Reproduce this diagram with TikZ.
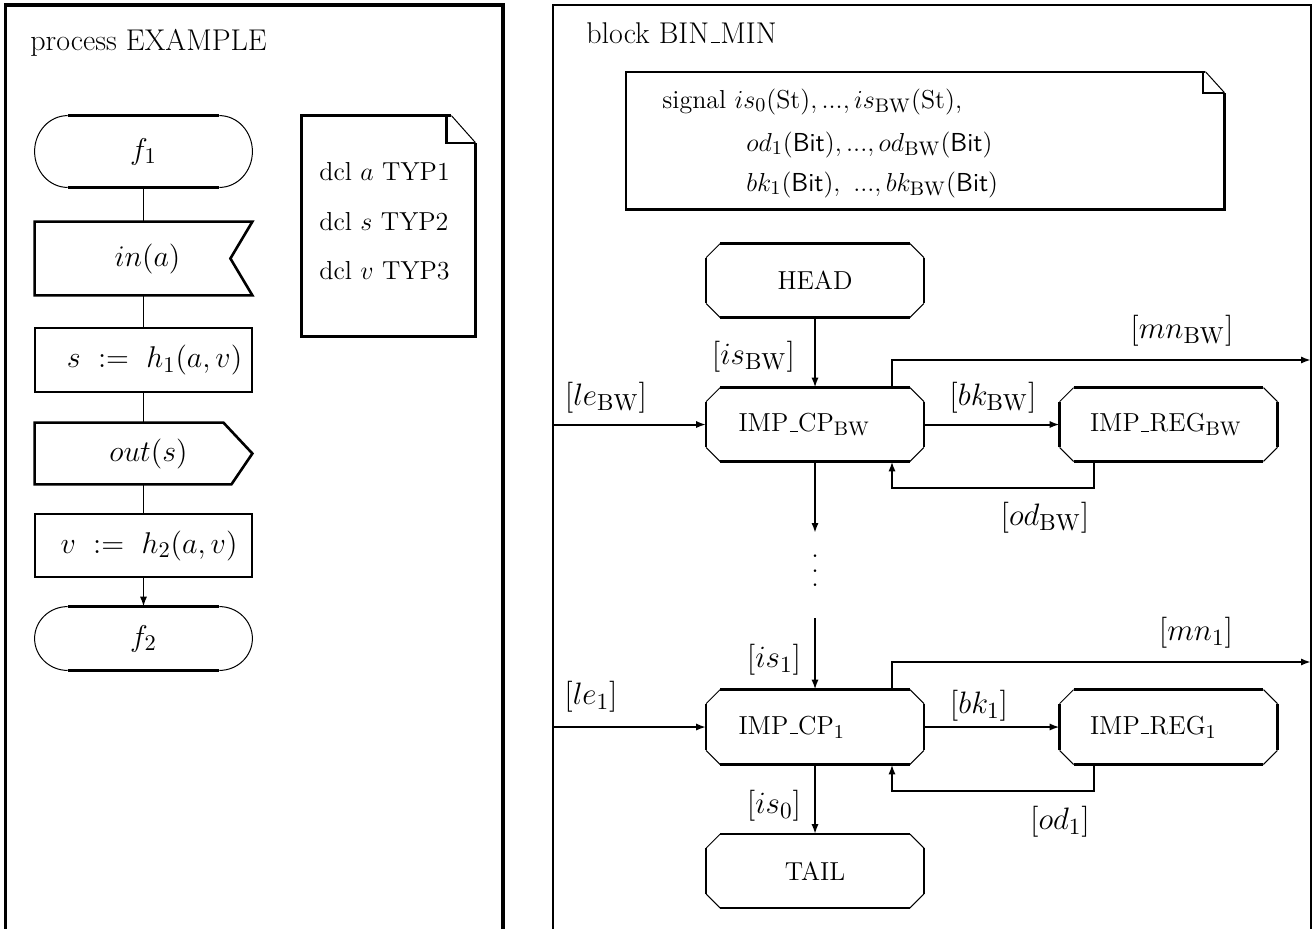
\RequirePackage{fix-cm}
\documentclass[tikz,border=0pt]{standalone}
\usetikzlibrary{arrows.meta,calc}
\DeclareMathSizes{13}{13}{9.8}{7.5}
\DeclareMathSizes{15}{15}{11.2}{8.5}
\DeclareMathSizes{15.5}{15.5}{11.6}{8.8}
\newcommand\us{\leavevmode\kern.06em\vbox{\hrule width.3em height .4pt}\kern.02em}
\tikzset{
  frameL/.style={line width=1.6pt},
  frameR/.style={line width=1.1pt},
  boxl/.style={line width=1.3pt},
  thinl/.style={line width=0.5pt},
  flink/.style={line width=0.9pt},
  tip/.style={-{Latex[length=5pt,width=3.6pt]}},
  arr/.style={line width=1pt,tip},
  arrb/.style={line width=1.4pt,tip},
  shp/.style={draw=none,inner sep=0pt,minimum width=108.5pt},
  ftext/.style={font=\fontsize{15}{18}\selectfont},
  ntext/.style={font=\fontsize{13}{16}\selectfont},
  ttext/.style={font=\fontsize{15}{18}\selectfont},
  lab/.style={font=\fontsize{15.5}{18}\selectfont,inner sep=0pt},
}
% terminator outline: straight edges thick, ends thin
\newcommand\termpath[1]{%
  \draw[boxl] ([xshift=16.5pt]#1.north west) -- ([xshift=-16.5pt]#1.north east)
              ([xshift=16.5pt]#1.south west) -- ([xshift=-16.5pt]#1.south east);
  \draw[thinl] let \p1=(#1.north), \p2=(#1.south), \n1={(\y1-\y2)/2} in
     ([xshift=-16.5pt]#1.north east) arc[start angle=90,end angle=-90,x radius=16.5pt,y radius=\n1]
     ([xshift=16.5pt]#1.south west) arc[start angle=270,end angle=90,x radius=16.5pt,y radius=\n1];
}
% chamfered outline: straight edges thick, corners thin
\newcommand\chamf[1]{%
  \draw[boxl] ([xshift=7pt]#1.north west) -- ([xshift=-7pt]#1.north east)
              ([yshift=-7pt]#1.north east) -- ([yshift=7pt]#1.south east)
              ([xshift=-7pt]#1.south east) -- ([xshift=7pt]#1.south west)
              ([yshift=7pt]#1.south west) -- ([yshift=-7pt]#1.north west);
  \draw[thinl] ([xshift=-7pt]#1.north east) -- ([yshift=-7pt]#1.north east)
               ([yshift=7pt]#1.south east) -- ([xshift=-7pt]#1.south east)
               ([xshift=7pt]#1.south west) -- ([yshift=7pt]#1.south west)
               ([yshift=-7pt]#1.north west) -- ([xshift=7pt]#1.north west);
}
\begin{document}
\begin{tikzpicture}[x=0.5pt,y=-0.5pt]
\useasboundingbox (0,0) rectangle (1313,928);
\fill[white] (0,0) rectangle (1313,928);

% ---------------- left frame ----------------
\draw[frameL] (5.5,940) -- (5.5,5) -- (503,5) -- (503,940);
\node[ttext,anchor=base west,inner sep=0pt] (ptitle) at (30,50) {process EXAMPLE};

% flowchart nodes
\node[shp,minimum height=35.5pt,ftext] (f1) at (143.5,151.5) {$f_1$};
\node[shp,minimum height=36.5pt,ftext] (in) at (143.5,258.5) {\hspace*{4pt}$in(a)$};
\node[shp,draw,boxl,minimum height=32pt,ftext] (s) at (143.5,360) {\hspace*{11pt}$s\ :=\ h_1(a,v)$};
\node[shp,minimum height=30.5pt,ftext] (out) at (143.5,453.5) {\hspace*{5pt}$out(s)$};
\node[shp,draw,boxl,minimum height=31.5pt,ftext] (v) at (143.5,545.5) {\hspace*{5.5pt}$v\ :=\ h_2(a,v)$};
\node[shp,minimum height=31.5pt,ftext] (f2) at (143.5,638.5) {$f_2$};

\termpath{f1}
\termpath{f2}
\draw[boxl] (in.north west) -- (in.north east) -- ([xshift=-11pt]in.east) -- (in.south east) -- (in.south west) -- cycle;
\draw[boxl] (out.north west) -- ([xshift=-14.5pt]out.north east) -- (out.east) -- ([xshift=-10.5pt]out.south east) -- (out.south west) -- cycle;

\draw[flink] (f1.south) -- (in.north);
\draw[flink] (in.south) -- (s.north);
\draw[flink] (s.south) -- (out.north);
\draw[flink] (out.south) -- (v.north);
\draw[flink,tip] (v.south) -- (f2.north);

% declaration text symbol
\node[draw=none,minimum width=86.5pt,minimum height=110pt] (decl) at (388.5,226) {};
\draw[boxl] ([xshift=-12pt]decl.north east) -- (decl.north west) -- (decl.south west) -- (decl.south east) -- ([yshift=-13.5pt]decl.north east);
\draw[thinl] ([xshift=-12pt]decl.north east) -- ([yshift=-13.5pt]decl.north east);
\draw[line width=1.1pt] ([xshift=-14.5pt]decl.north east) -- ([xshift=-14.5pt,yshift=-13.5pt]decl.north east) -- ([yshift=-13.5pt]decl.north east);
\node[ntext,anchor=base west,inner sep=0pt] (d1) at (319,180) {dcl $a$ TYP1};
\node[ntext,anchor=base west,inner sep=0pt] (d2) at (319,230) {dcl $s$ TYP2};
\node[ntext,anchor=base west,inner sep=0pt] (d3) at (319,279) {dcl $v$ TYP3};

% ---------------- right frame ----------------
\draw[frameR] (553,940) -- (553,5) -- (1311,5) -- (1311,940);
\node[ttext,anchor=base west,inner sep=0pt] (btitle) at (586,43) {block BIN\us MIN};

% signal declaration
\node[draw=none,minimum width=299pt,minimum height=68.5pt] (sig) at (925,140.5) {};
\draw[line width=1.1pt] ([xshift=-9.5pt]sig.north east) -- (sig.north west) -- (sig.south west) -- (sig.south east) -- ([yshift=-10.5pt]sig.north east);
\draw[thinl] ([xshift=-9.5pt]sig.north east) -- ([yshift=-10.5pt]sig.north east);
\draw[line width=1pt] ([xshift=-10.5pt]sig.north east) -- ([xshift=-10.5pt,yshift=-10.5pt]sig.north east) -- ([yshift=-10.5pt]sig.north east);
\node[ntext,anchor=base west,inner sep=0pt] (sig1) at (662,108) {signal $is_0(\mathrm{St}), ..., is_{\mathrm{BW}}(\mathrm{St})$,};
\node[ntext,anchor=base west,inner sep=0pt] (sig2) at (746,151) {$od_1(\textsf{Bit}), ..., od_{\mathrm{BW}}(\textsf{Bit})$};
\node[ntext,anchor=base west,inner sep=0pt] (sig3) at (746,191) {$bk_1(\textsf{Bit}),\ ...,bk_{\mathrm{BW}}(\textsf{Bit})$};

% process nodes
\node[shp,minimum height=36.5pt,ntext] (HEAD) at (815,280.5) {HEAD};
\node[shp,minimum height=36.5pt,ntext,text width=76.5pt,inner xsep=16pt,align=left] (ICPBW) at (815,424.5) {IMP\us CP$_{\mathrm{BW}}$};
\node[shp,minimum height=36.5pt,ntext,text width=78.5pt,inner xsep=15pt,align=left] (IRBW) at (1168.5,424.5) {IMP\us REG$_{\mathrm{BW}}$};
\node[shp,minimum height=37pt,ntext,text width=76.5pt,inner xsep=16pt,align=left] (ICP1) at (815,727) {IMP\us CP$_1$};
\node[shp,minimum height=37pt,ntext,text width=78.5pt,inner xsep=15pt,align=left] (IR1) at (1168.5,727) {IMP\us REG$_1$};
\node[shp,minimum height=36.5pt,ntext] (TAIL) at (815,871) {TAIL};
\chamf{HEAD}
\chamf{ICPBW}
\chamf{IRBW}
\chamf{ICP1}
\chamf{IR1}
\chamf{TAIL}

% connectors, upper stage
\coordinate (leBWin) at (553,424.5);
\coordinate (mnBWout) at (1311,360);
\coordinate (dnBW) at (815,533);
\draw[arrb] (HEAD.south) -- (ICPBW.north);
\draw[arr] (leBWin) -- (ICPBW.west);
\draw[arr] ([xshift=38.5pt]ICPBW.north) |- (mnBWout);
\draw[arr] (ICPBW.east) -- (IRBW.west);
\draw[arr] ([xshift=-37.25pt]IRBW.south) -- ++(0,27) -| ([xshift=38.5pt]ICPBW.south);
\draw[arrb] (ICPBW.south) -- (dnBW);

\node[font=\fontsize{16}{16}\selectfont,inner sep=0pt] (dots) at (815,571)
  {\vbox{\baselineskip=7.2pt\lineskiplimit=-20pt\hbox{.}\hbox{.}\hbox{.}}};

% connectors, lower stage
\coordinate (up1) at (815,618);
\coordinate (le1in) at (553,727);
\coordinate (mn1out) at (1311,662);
\draw[arrb] (up1) -- (ICP1.north);
\draw[arrb] (le1in) -- (ICP1.west);
\draw[arr] ([xshift=38.5pt]ICP1.north) |- (mn1out);
\draw[arrb] (ICP1.east) -- (IR1.west);
\draw[arr] ([xshift=-37.25pt]IR1.south) -- ++(0,26.5) -| ([xshift=38.5pt]ICP1.south);
\draw[arrb] (ICP1.south) -- (TAIL.north);

% labels
\node[lab] (lisBW) at (753.5,357) {$[is_{\mathrm{BW}}]$};
\node[lab] (lleBW) at (606,398) {$[le_{\mathrm{BW}}]$};
\node[lab] (lbkBW) at (993,398) {$[bk_{\mathrm{BW}}]$};
\node[lab] (lmnBW) at (1182,331) {$[mn_{\mathrm{BW}}]$};
\node[lab] (lodBW) at (1045,518) {$[od_{\mathrm{BW}}]$};
\node[lab] (lis1) at (774,660) {$[is_1]$};
\node[lab] (lle1) at (591,697) {$[le_1]$};
\node[lab] (lbk1) at (979,706) {$[bk_1]$};
\node[lab] (lmn1) at (1196,633) {$[mn_1]$};
\node[lab] (lod1) at (1060,822) {$[od_1]$};
\node[lab] (lis0) at (774,806) {$[is_0]$};
\end{tikzpicture}
\end{document}
